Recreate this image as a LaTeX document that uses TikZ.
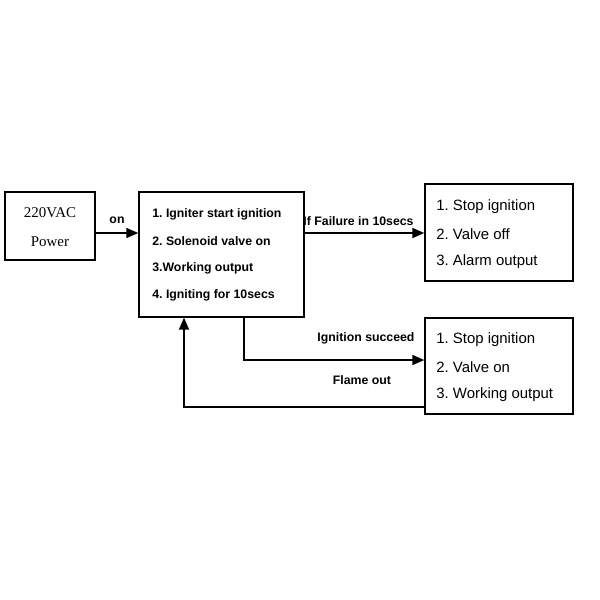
\documentclass[tikz,border=0pt]{standalone}
\usepackage{fontspec}
\setmainfont{Liberation Sans}
\newfontfamily\powerfont{Liberation Serif}
\usetikzlibrary{arrows.meta}
\frenchspacing
\tikzset{
  box/.style={draw,line width=0.8pt,inner sep=0pt},
  arr/.style={line width=0.9pt,-{Triangle[length=2.4mm,width=2mm]}},
  stepline/.style={anchor=west,inner sep=0pt,font=\fontsize{7}{8}\selectfont\bfseries},
  item/.style={anchor=west,inner sep=0pt,font=\fontsize{8.5}{10}\selectfont},
  lbl/.style={inner sep=0pt,font=\fontsize{7}{8}\selectfont\bfseries}
}
\begin{document}
\begin{tikzpicture}[x=0.02cm,y=-0.02cm]
			\useasboundingbox (0,0) rectangle (600,600);
			% boxes
			\node[box,minimum width=1.8cm,minimum height=1.36cm] (power) at (50,226) {};
			\node[font=\powerfont\fontsize{8.5}{10}\selectfont] (v220) at (power.center |- 0,213) {220VAC};
			\node[font=\powerfont\fontsize{8.5}{10}\selectfont] (pw) at (power.center |- 0,242) {Power};
			\node[box,minimum width=3.3cm,minimum height=2.5cm] (main) at (221.5,254.5) {};
			\node[box,minimum width=2.96cm,minimum height=1.94cm] (fail) at (499,232.5) {};
			\node[box,minimum width=2.96cm,minimum height=1.92cm] (ok) at (499,366) {};
			% texts in the boxes
			\foreach \t [count=\i] in {1. Igniter start ignition,2. Solenoid valve on,3.Working output,4. Igniting for 10secs}
			{\node[stepline] (m\i) at (152,187+27*\i) {\t};}
			\foreach \t [count=\i] in {1. Stop ignition,2. Valve off,3. Alarm output}
			{\node[item] (f\i) at (436,179.5+27.5*\i) {\t};}
			\foreach \t [count=\i] in {1. Stop ignition,2. Valve on,3. Working output}
			{\node[item] (o\i) at (436,312.5+27.5*\i) {\t};}
			% connectors
			\draw[arr] (power.east |- 0,233) -- node[lbl,above=5pt] (on) {on} (main.west |- 0,233);
			\draw[arr] (main.east |- 0,233) -- node[lbl,above=4pt,pos=0.45] (fl) {If Failure in 10secs} (fail.west |- 0,233);
			\draw[arr] (main.south -| 244,0) |- (ok.west |- 0,360);
			\draw[arr] (ok.west |- 0,407) -| (main.south -| 184,0);
			\node[lbl] (succ) at (366,338) {Ignition succeed};
			\node[lbl] (flame) at (362,380) {Flame out};
		\end{tikzpicture}
\end{document}
